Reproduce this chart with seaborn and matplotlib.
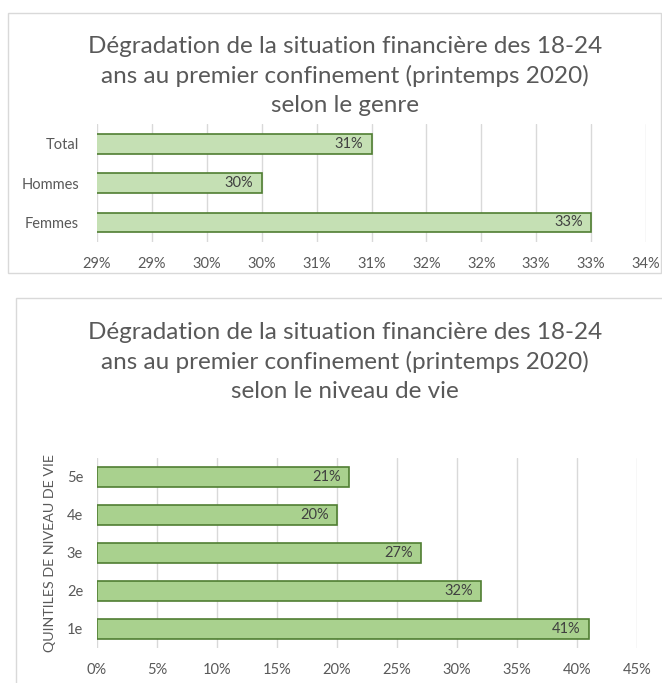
import numpy as np
import pandas as pd
import matplotlib
matplotlib.use("Agg")
import matplotlib.pyplot as plt
from matplotlib.patches import Rectangle
import seaborn as sns

# Données
genre_labels = ["Total", "Hommes", "Femmes"]
genre_values = [31.25, 30.25, 33.25]
genre_ticks = [28.75, 29.25, 29.75, 30.25, 30.75, 31.25, 31.75, 32.25, 32.75, 33.25, 33.75]

quintile_labels = ["5e", "4e", "3e", "2e", "1e"]
quintile_values = [21, 20, 27, 32, 41]
quintile_ticks = [0, 5, 10, 15, 20, 25, 30, 35, 40, 45]

titre_genre = ("Dégradation de la situation financière des 18-24\n"
               "ans au premier confinement (printemps 2020)\nselon le genre")
titre_vie = ("Dégradation de la situation financière des 18-24\n"
             "ans au premier confinement (printemps 2020)\nselon le niveau de vie")

sns.set_style("white")
plt.rcParams['font.family'] = ['Lato', 'DejaVu Sans']

TEXT = "#595959"
GRID = "#D9D9D9"
EDGE = "#507E32"

W, H = 662, 683
fig = plt.figure(figsize=(W / 100, H / 100), dpi=100)


def px_axes(x0, y0, x1, y1):
    return fig.add_axes([x0 / W, 1 - y1 / H, (x1 - x0) / W, (y1 - y0) / H])


def draw(ax, labels, values, ticks, xlim, color, height):
    df = pd.DataFrame({"cat": labels, "val": values})
    sns.barplot(data=df, x="val", y="cat", ax=ax, orient="h", color=color,
                edgecolor=EDGE, linewidth=1.2, width=height, saturation=1)
    ax.set_xlim(*xlim)
    ax.set_ylim(len(labels) - 0.5, -0.5)
    ax.set_xticks(ticks)
    ax.set_xticklabels([f"{t:.0f}%" for t in ticks])
    ax.grid(axis="x", color=GRID, linewidth=1)
    ax.set_axisbelow(True)
    for s in ax.spines.values():
        s.set_visible(False)
    ax.tick_params(axis="both", length=0, colors=TEXT, labelsize=10.5)
    ax.tick_params(axis="x", pad=11)
    ax.tick_params(axis="y", pad=13)
    ax.set_xlabel("")
    ax.set_ylabel("")
    ax.patch.set_alpha(0)
    for p, v in zip(ax.patches, values):
        ax.annotate(f"{v:.0f}%", (p.get_x() + p.get_width(), p.get_y() + p.get_height() / 2),
                    xytext=(-6, 0), textcoords="offset points", ha="right", va="center",
                    color="#404040", fontsize=10.5)


# cadres des graphiques
fig.patches.append(Rectangle((8 / W, 1 - 273 / H), 653 / W, 260 / H, transform=fig.transFigure,
                             fill=False, edgecolor=GRID, linewidth=1))
fig.patches.append(Rectangle((16 / W, -0.05), 700 / W, 1.05 - 298 / H, transform=fig.transFigure,
                             fill=False, edgecolor=GRID, linewidth=1))

ax1 = px_axes(97, 124, 646, 242)
draw(ax1, genre_labels, genre_values, genre_ticks, (28.75, 33.75), "#C5E0B4", 0.5)
fig.text(345 / W, 1 - 76 / H, titre_genre, ha="center", va="center", fontsize=17.5,
         color=TEXT, linespacing=1.45)

ax2 = px_axes(97, 458, 637, 648)
draw(ax2, quintile_labels, quintile_values, quintile_ticks, (0, 45), "#A9D18E", 0.51)
ax2.tick_params(axis="x", pad=11)
ax2.tick_params(axis="y", pad=10)
ax2.set_ylabel("QUINTILES DE NIVEAU DE VIE", color=TEXT, fontsize=10.3, labelpad=8)
fig.text(345 / W, 1 - 362 / H, titre_vie, ha="center", va="center", fontsize=17.5,
         color=TEXT, linespacing=1.45)

fig.savefig("out.png", dpi=100)
